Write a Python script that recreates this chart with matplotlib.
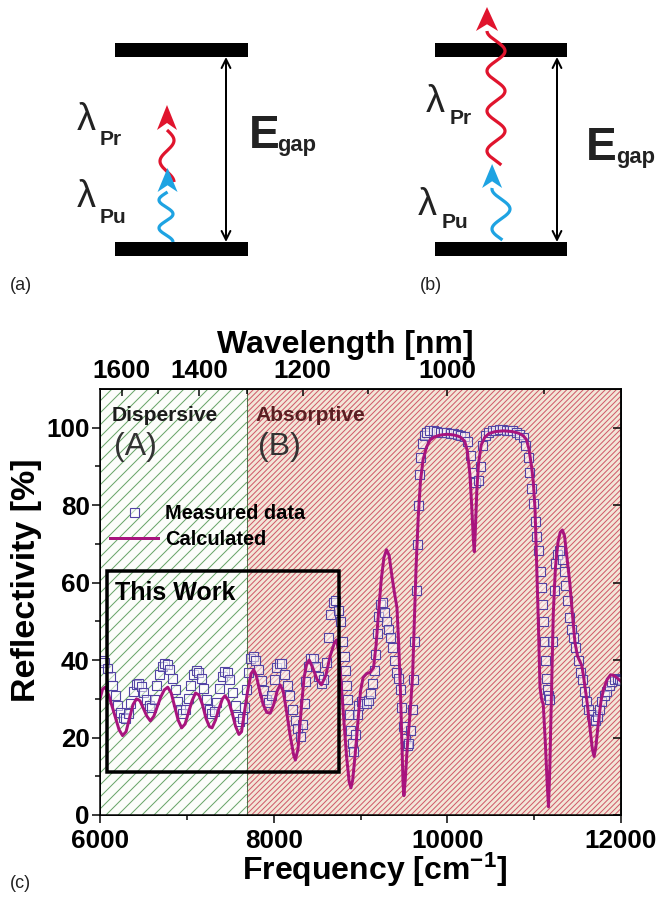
import numpy as np
import matplotlib
matplotlib.use("Agg")
import matplotlib.pyplot as plt
from matplotlib.patches import Rectangle, Polygon
from matplotlib.collections import LineCollection

plt.rcParams["font.family"] = ["Liberation Sans", "DejaVu Sans"]
plt.rcParams["font.weight"] = "bold"
plt.rcParams["axes.labelweight"] = "bold"
plt.rcParams["mathtext.fontset"] = "custom"
plt.rcParams["mathtext.rm"] = "Liberation Sans:bold"
plt.rcParams["mathtext.bf"] = "Liberation Sans:bold"
plt.rcParams["mathtext.default"] = "bf"

# ---------------- data ----------------
freq_meas = [6000, 6020, 6050, 6080, 6110, 6140, 6170, 6200, 6230, 6260, 6290, 6320, 6350, 6380,
             6410, 6440, 6470, 6500, 6530, 6560, 6590, 6620, 6650, 6680, 6710, 6740, 6770, 6800,
             6830, 6860, 6890, 6920, 6950, 6980, 7010, 7040, 7070, 7100, 7130, 7160, 7190, 7220,
             7250, 7280, 7310, 7340, 7370, 7400, 7430, 7460, 7490, 7520, 7550, 7580, 7605, 7630,
             7655, 7680, 7705, 7730, 7760, 7790, 7820, 7850, 7880, 7910, 7940, 7970, 8000, 8030,
             8060, 8090, 8120, 8150, 8180, 8210, 8240, 8270, 8300, 8325, 8345, 8365, 8390, 8420,
             8450, 8480, 8510, 8540, 8570, 8600, 8625, 8650, 8680, 8710, 8740, 8765, 8790, 8805,
             8820, 8835, 8850, 8865, 8880, 8900, 8915, 8935, 8955, 8975, 9000, 9030, 9060, 9090,
             9115, 9135, 9150, 9165, 9185, 9205, 9225, 9245, 9270, 9295, 9320, 9345, 9365, 9385,
             9405, 9430, 9450, 9470, 9490, 9510, 9530, 9550, 9570, 9590, 9605, 9620, 9635, 9648,
             9660, 9675, 9690, 9710, 9730, 9760, 9790, 9830, 9870, 9910, 9950, 9990, 10030, 10070,
             10110, 10150, 10190, 10230, 10260, 10290, 10320, 10350, 10375, 10400, 10430, 10470,
             10510, 10550, 10590, 10630, 10670, 10710, 10750, 10790, 10830, 10870, 10900, 10925,
             10945, 10965, 10985, 11005, 11025, 11045, 11065, 11080, 11095, 11105, 11115, 11125,
             11135, 11145, 11160, 11175, 11200, 11225, 11245, 11265, 11290, 11315, 11340, 11360,
             11380, 11400, 11425, 11450, 11475, 11500, 11525, 11550, 11575, 11600, 11625, 11650,
             11675, 11700, 11725, 11750, 11775, 11800, 11830, 11860, 11890, 11920, 11950, 11980,
             12000]
refl_meas = [39.5, 40.0, 39.5, 38.0, 36.0, 33.5, 31.0, 28.3, 26.5, 25.3, 25.0, 26.3, 29.0, 32.0,
             33.8, 34.0, 33.3, 31.8, 30.0, 28.3, 28.0, 30.0, 33.5, 36.5, 38.5, 39.3, 39.0, 37.8,
             35.5, 32.5, 29.5, 27.3, 26.3, 27.5, 30.3, 33.5, 36.5, 37.5, 37.0, 35.3, 32.8, 30.0,
             27.5, 26.3, 26.8, 29.3, 32.8, 35.8, 37.2, 36.8, 35.0, 31.8, 28.5, 25.5, 24.2, 25.0,
             28.0, 32.5, 37.0, 40.5, 41.0, 40.0, 37.8, 34.8, 32.3, 30.0, 29.3, 31.0, 35.0, 38.2,
             39.3, 39.3, 36.5, 33.5, 31.0, 27.5, 24.5, 22.5, 20.5, 23.5, 29.0, 34.5, 38.5, 40.5,
             40.5, 38.5, 36.0, 34.0, 35.0, 39.5, 46.0, 52.0, 55.0, 55.5, 53.0, 50.0, 45.0, 41.0,
             37.5, 33.5, 30.0, 26.0, 22.0, 18.5, 16.5, 21.0, 26.0, 28.5, 29.5, 29.0, 29.0, 29.8,
             31.5, 34.0, 37.5, 41.5, 47.0, 51.5, 54.5, 55.0, 52.5, 50.0, 48.0, 46.0, 43.5, 40.0,
             37.0, 35.5, 32.5, 28.0, 23.0, 20.0, 18.0, 18.5, 22.0, 27.5, 35.0, 45.0, 58.0, 70.0,
             80.0, 88.0, 92.5, 96.0, 98.0, 99.0, 99.3, 99.3, 99.2, 99.0, 99.0, 98.8, 98.6, 98.6,
             98.4, 98.2, 97.8, 96.5, 93.0, 88.5, 86.0, 86.5, 90.0, 95.5, 98.0, 99.0,
             99.3, 99.5, 99.6, 99.6, 99.5, 99.5, 99.3, 99.0, 98.5, 97.5, 95.5, 92.5,
             88.5, 84.5, 80.5, 76.0, 72.0, 68.5, 63.0, 59.0, 54.5, 50.0, 45.0, 40.0,
             35.5, 32.5, 31.0, 30.0, 45.0, 58.0, 65.0, 67.5, 68.5, 66.0, 63.0, 59.5,
             55.5, 51.0, 48.0, 46.0, 43.5, 40.0, 37.0, 35.0, 32.0, 29.5, 27.5, 26.0,
             24.8, 24.5, 25.5, 27.5, 29.5, 31.0, 32.0, 33.5, 34.5, 35.0, 35.3, 35.0,
             34.8]

freq_calc = [6000, 6030, 6060, 6100, 6140, 6180, 6220, 6260, 6300, 6340, 6380, 6420, 6460, 6500,
             6540, 6580, 6620, 6660, 6700, 6740, 6780, 6820, 6860, 6900, 6940, 6980, 7020, 7060,
             7100, 7140, 7180, 7220, 7260, 7290, 7330, 7370, 7410, 7440, 7480, 7520, 7560, 7600,
             7630, 7660, 7700, 7740, 7770, 7800, 7840, 7880, 7920, 7960, 8000, 8040, 8075, 8110,
             8150, 8190, 8230, 8250, 8280, 8320, 8350, 8380, 8410, 8450, 8500, 8550, 8600, 8650,
             8700, 8725, 8750, 8780, 8810, 8840, 8870, 8890, 8910, 8940, 8970, 9000, 9030, 9070,
             9110, 9150, 9180, 9210, 9240, 9270, 9300, 9330, 9360, 9390, 9420, 9440, 9460, 9475,
             9490, 9500, 9515, 9540, 9570, 9600, 9620, 9640, 9665, 9690, 9720, 9760, 9800, 9850,
             9900, 9950, 10000, 10050, 10100, 10150, 10200, 10230, 10260, 10280, 10300, 10310,
             10320, 10340, 10360, 10390, 10430, 10480, 10550, 10650, 10750, 10820, 10870, 10910,
             10940, 10970, 10990, 11010, 11030, 11048, 11067, 11085, 11105, 11130, 11150, 11165,
             11180, 11200, 11220, 11245, 11275, 11300, 11325, 11350, 11380, 11410, 11440, 11470,
             11500, 11530, 11550, 11580, 11610, 11640, 11670, 11690, 11710, 11740, 11770, 11800,
             11840, 11880, 11920, 11960, 12000]
refl_calc = [30.0, 32.5, 33.0, 31.0, 28.0, 25.0, 22.0, 20.5, 21.5, 25.0, 28.5, 30.0, 29.5, 27.5,
             25.5, 24.3, 25.5, 28.0, 30.5, 32.3, 33.0, 31.5, 28.0, 24.5, 22.5, 23.5, 26.5, 29.5,
             31.5, 31.0, 28.5, 25.0, 22.8, 22.5, 24.5, 27.5, 30.0, 30.8, 29.5, 26.5, 23.0, 20.8,
             21.5, 26.0, 32.0, 36.5, 37.5, 36.0, 32.0, 28.5, 26.5, 26.3, 28.5, 32.0, 33.6, 32.0,
             26.5, 20.5, 15.5, 14.2, 17.0, 28.0, 35.5, 39.0, 40.0, 38.0, 35.0, 33.6, 36.0, 41.0,
             44.5, 45.2, 42.0, 33.0, 24.0, 15.0, 8.5, 7.0, 9.0, 16.0, 24.0, 32.0, 35.5, 36.5,
             36.8, 38.0, 44.0, 53.0, 61.0, 66.5, 68.5, 67.0, 62.0, 57.5, 53.5, 44.0, 32.0, 20.0,
             8.0, 5.0, 9.0, 18.0, 26.0, 36.0, 50.0, 64.0, 77.0, 86.0, 91.7, 95.0, 96.8, 97.6,
             98.0, 98.2, 98.3, 98.2, 98.0, 97.6, 96.5, 94.0, 88.0, 80.0, 71.0, 68.0,
             72.0, 84.0, 91.0, 95.5, 97.5, 98.5, 99.0, 99.2, 99.0, 98.6, 98.0, 97.0,
             94.5, 90.0, 86.0, 79.0, 64.0, 50.0, 33.0, 30.0, 28.5, 18.0, 8.0, 2.1,
             12.0, 32.0, 52.0, 64.0, 70.5, 73.0, 73.6, 72.0, 66.0, 60.0, 52.0, 44.5,
             41.0, 39.5, 38.5, 34.0, 29.0, 23.0, 17.0, 15.1, 17.5, 24.0, 29.5, 32.5,
             35.0, 36.2, 36.0, 35.3, 34.5]

x_ticks = [6000, 8000, 10000, 12000]
x_minor = [7000, 9000, 11000]
y_ticks = [0, 20, 40, 60, 80, 100]
y_minor = [10, 30, 50, 70, 90]
wl_major_nm = [1600, 1400, 1200, 1000]
wl_minor_nm = [1500, 1300, 1100, 900]
boundary_nm = 1300

DPI = 72
fig = plt.figure(figsize=(668 / DPI, 898 / DPI), dpi=DPI)

# ---------------- schematic panels (a) and (b), pixel units ----------------
sk = fig.add_axes([0, 0, 1, 1])
sk.set_xlim(0, 668)
sk.set_ylim(898, 0)
sk.axis("off")

BLUE = "#1ea3e2"
RED = "#e0142d"
INK = "#222222"


def wavy(xc, y0, y1, amp, period, phase, color):
    y = np.linspace(y0, y1, 300)
    x = xc + amp * np.cos(2 * np.pi * (y0 - y) / period + phase)
    sk.plot(x, y, color=color, lw=3.2, solid_capstyle="butt", zorder=3)
    return x[-1]


def head(xc, ybase, ytip, half, color):
    notch = ybase - 0.28 * (ybase - ytip)
    sk.add_patch(Polygon([(xc, ytip), (xc + half, ybase), (xc, notch), (xc - half, ybase)],
                         closed=True, facecolor=color, edgecolor="none", zorder=4))


def levels(x0, x1, xarrow):
    sk.add_patch(Rectangle((x0, 43), x1 - x0, 14, facecolor="black", edgecolor="none", zorder=2))
    sk.add_patch(Rectangle((x0, 242), x1 - x0, 14, facecolor="black", edgecolor="none", zorder=2))
    sk.annotate("", xy=(xarrow, 57), xytext=(xarrow, 242),
                arrowprops=dict(arrowstyle="<->", color="black", lw=2,
                                shrinkA=0, shrinkB=0, mutation_scale=22), zorder=2)


def label(x, y, sub_x, sub_y, sub):
    sk.text(x, y, "λ", fontsize=38, fontweight="normal", color=INK, va="baseline")
    sk.text(sub_x, sub_y, sub, fontsize=21, color=INK, va="baseline")


# (a)
levels(115, 248, 226)
xe = wavy(166, 242, 192, 7, 28, 0.0, BLUE)
head(xe, 192, 168, 10, BLUE)
xe = wavy(167, 182, 130, 7, 41.6, 0.0, RED)
head(xe, 130, 105, 10, RED)
label(77, 130, 100, 145, "Pr")
label(77, 207, 100, 223, "Pu")
sk.text(249, 148, "E", fontsize=46, color=INK, va="baseline")
sk.text(277, 151, "gap", fontsize=22, color=INK, va="baseline")
sk.text(10, 290, "(a)", fontsize=18, fontweight="normal", color=INK, va="baseline")

# (b)
levels(435, 567, 557)
xe = wavy(501, 240, 188, 9, 40, 0.45 * np.pi, BLUE)
head(xe, 188, 164, 10, BLUE)
xe = wavy(496, 165, 31, 9, 40, 0.3 * np.pi, RED)
head(xe, 31, 7, 11, RED)
label(426, 112, 450, 124, "Pr")
label(418, 215, 442, 228, "Pu")
sk.text(586, 160, "E", fontsize=46, color=INK, va="baseline")
sk.text(616, 163, "gap", fontsize=22, color=INK, va="baseline")
sk.text(420, 290, "(b)", fontsize=18, fontweight="normal", color=INK, va="baseline")

sk.text(10, 888, "(c)", fontsize=18, fontweight="normal", color=INK, va="baseline")

# ---------------- reflectivity panel (c) ----------------
X_MIN, X_MAX = 6000, 12000
AX_W, AX_H = 521, 426
ax = fig.add_axes([100 / 668, 83 / 898, AX_W / 668, AX_H / 898])


def hatched_band(x0, x1, face, line_color, spacing, lw):
    ax.axvspan(x0, x1, facecolor=face, lw=0, zorder=0)
    # diagonal 45-degree stripes confined to the band (axes-fraction units)
    fx0 = (x0 - X_MIN) / (X_MAX - X_MIN)
    fx1 = (x1 - X_MIN) / (X_MAX - X_MIN)
    segs = []
    for c in np.arange(-AX_H, AX_W + spacing, spacing):
        ya = max(0.0, fx0 * AX_W - c)
        yb = min(float(AX_H), fx1 * AX_W - c)
        if yb <= ya:
            continue
        segs.append([((c + ya) / AX_W, ya / AX_H), ((c + yb) / AX_W, yb / AX_H)])
    lc = LineCollection(segs, colors=line_color, linewidths=lw,
                        transform=ax.transAxes, zorder=0.5)
    ax.add_collection(lc, autolim=False)


f_boundary = 1e7 / boundary_nm
hatched_band(X_MIN, f_boundary, "#fcfdfa", "#68a468", 12.0, 1.0)
hatched_band(f_boundary, X_MAX, "#f3e6d8", "#d05a6a", 5.5, 1.0)
ax.axvline(f_boundary, color="#3f6b3f", lw=0.9, zorder=1)

meas, = ax.plot(freq_meas, refl_meas, ls="none", marker="s", ms=9,
                mfc=(1, 1, 1, 0.5), mec="#5244a4", mew=1.1, zorder=3, label="Measured data")
calc, = ax.plot(freq_calc, refl_calc, color="#a8147e", lw=3, zorder=4, label="Calculated")

ax.add_patch(Rectangle((6084, 11.2), 8757 - 6084, 62.9 - 11.2, fill=False,
                       edgecolor="black", lw=3.5, zorder=5))

ax.legend(handles=[meas, calc], loc="upper left", bbox_to_anchor=(0.019, 0.731),
          frameon=False, fontsize=20, borderpad=0, borderaxespad=0, handlelength=2.4,
          handletextpad=0.35, labelspacing=0.38, numpoints=1)

ax.text(0.023, 0.926, "Dispersive", transform=ax.transAxes, fontsize=21, color="#1c1c1c", va="baseline")
ax.text(0.2975, 0.926, "Absorptive", transform=ax.transAxes, fontsize=21, color="#5a1e22", va="baseline")
ax.text(0.027, 0.845, "(A)", transform=ax.transAxes, fontsize=32, fontweight="normal", color="#333333", va="baseline")
ax.text(0.303, 0.845, "(B)", transform=ax.transAxes, fontsize=32, fontweight="normal", color="#333333", va="baseline")
ax.text(0.0288, 0.5047, "This Work", transform=ax.transAxes, fontsize=25, color="black", va="baseline", zorder=6)

ax.set_xlim(X_MIN, X_MAX)
ax.set_ylim(0, 110)
ax.set_xticks(x_ticks)
ax.set_xticks(x_minor, minor=True)
ax.set_yticks(y_ticks)
ax.set_yticks(y_minor, minor=True)
ax.tick_params(which="major", direction="out", length=8, width=1.5, labelsize=26, pad=2)
ax.tick_params(axis="x", which="major", pad=6)
ax.tick_params(which="minor", direction="out", length=5, width=1.5)
for s in ax.spines.values():
    s.set_linewidth(1.5)
ax.set_xlabel("Frequency [cm$^{-1}$]", fontsize=32, labelpad=-2)
ax.set_ylabel("Reflectivity [%]", fontsize=34, labelpad=4)
ax.xaxis.label.set_x(0.528)
ax.yaxis.label.set_y(0.552)

axr = ax.twinx()
axr.set_ylim(0, 110)
axr.set_yticks(y_ticks)
axr.tick_params(direction="in", length=8, width=1.5, labelright=False)
axr.spines["right"].set_linewidth(1.5)

axt = ax.twiny()
axt.set_xlim(X_MIN, X_MAX)
axt.set_xticks([1e7 / n for n in wl_major_nm], labels=[str(n) for n in wl_major_nm])
axt.set_xticks([1e7 / n for n in wl_minor_nm], minor=True)
axt.tick_params(which="major", direction="in", length=7, width=1.5, labelsize=26, pad=6)
axt.tick_params(which="minor", direction="in", length=5, width=1.5)
axt.spines["top"].set_linewidth(1.5)
axt.set_xlabel("Wavelength [nm]", fontsize=32, labelpad=6)
axt.xaxis.label.set_x(0.47)

fig.savefig("out.png", dpi=DPI)
